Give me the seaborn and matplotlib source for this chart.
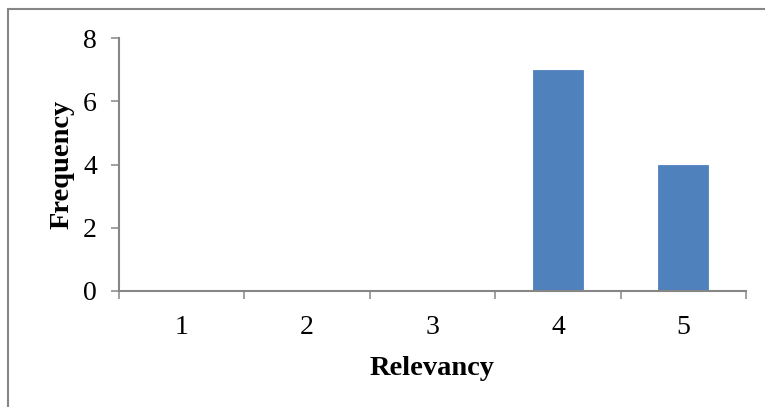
import matplotlib
matplotlib.use("Agg")
import matplotlib.pyplot as plt
import seaborn as sns
import pandas as pd
from matplotlib.patches import Rectangle
from matplotlib.ticker import FixedLocator

relevancy = ["1", "2", "3", "4", "5"]
frequency = [0, 0, 0, 7, 4]
y_ticks = [0, 2, 4, 6, 8]

sns.set_style("white")
plt.rcParams["font.family"] = ["Liberation Serif", "DejaVu Serif"]
plt.rcParams["text.color"] = "black"
plt.rcParams["xtick.color"] = "black"
plt.rcParams["ytick.color"] = "black"
plt.rcParams["axes.labelcolor"] = "black"

axis_grey = "#868686"
bar_blue = "#4F81BD"

df = pd.DataFrame({"Relevancy": relevancy, "Frequency": frequency})

fig = plt.figure(figsize=(7.65, 4.07), dpi=100)
ax = fig.add_axes([119 / 765, 1 - 291 / 407, (746 - 119) / 765, (291 - 38) / 407])

sns.barplot(data=df, x="Relevancy", y="Frequency", color=bar_blue,
            width=0.4, saturation=1, edgecolor=bar_blue, linewidth=0.6, ax=ax)

ax.set_xlim(-0.5, len(relevancy) - 0.5)
ax.set_ylim(0, 8)
ax.set_yticks(y_ticks)
ax.set_yticklabels([str(t) for t in y_ticks], fontsize=20)
ax.set_xticklabels(relevancy, fontsize=20)

# category boundary ticks on the x axis
ax.xaxis.set_minor_locator(FixedLocator([i - 0.5 for i in range(len(relevancy) + 1)]))
ax.tick_params(axis="x", which="major", length=0, pad=17, labelcolor="black")
ax.tick_params(axis="x", which="minor", length=6, width=1.1, color=axis_grey, direction="out", bottom=True)
ax.tick_params(axis="y", which="major", length=6, width=1.1, color=axis_grey, direction="out", left=True, pad=10,
               labelcolor="black")

for side in ["top", "right"]:
    ax.spines[side].set_visible(False)
for side in ["left", "bottom"]:
    ax.spines[side].set_color(axis_grey)
    ax.spines[side].set_linewidth(1.5)

ax.set_xlabel("Relevancy", fontsize=20.5, fontweight="bold", labelpad=12, color="black")
ax.set_ylabel("Frequency", fontsize=20.5, fontweight="bold", labelpad=6, color="black")

# chart area border
fig.patches.append(Rectangle((7.5 / 765, -0.1), 1.2, 1 - 9.5 / 407 + 0.1,
                             transform=fig.transFigure, fill=False,
                             edgecolor=axis_grey, linewidth=1.5))

fig.savefig("out.png", dpi=100)
